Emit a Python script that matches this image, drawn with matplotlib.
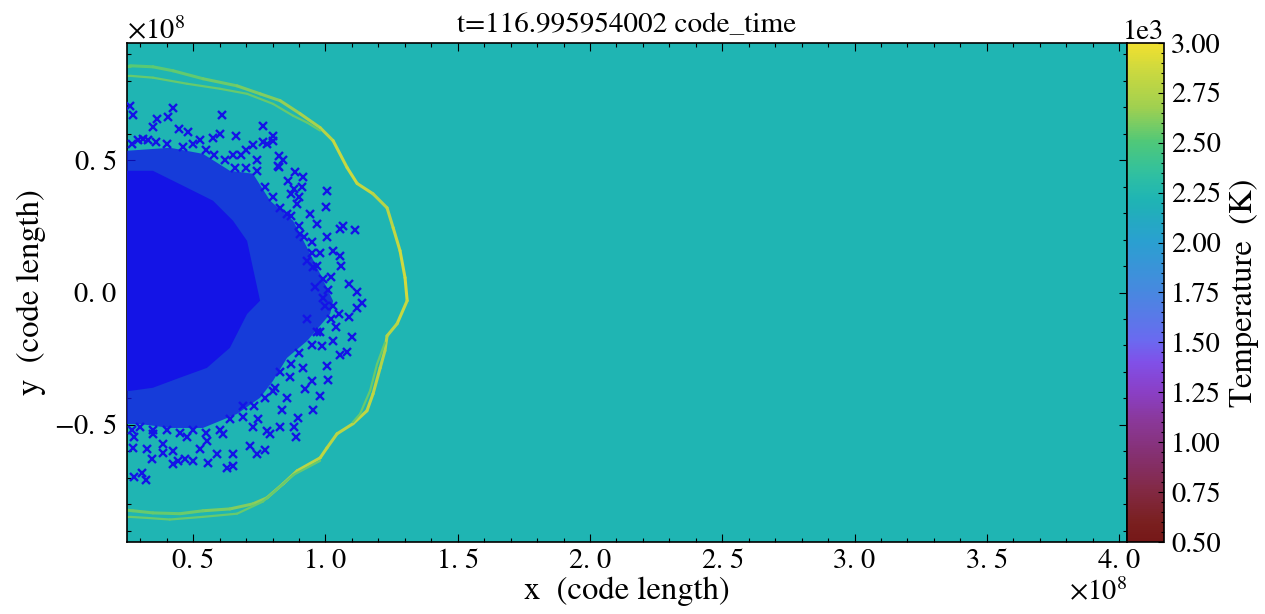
import matplotlib
matplotlib.use("Agg")
import matplotlib.pyplot as plt
from matplotlib.colors import LinearSegmentedColormap, Normalize
from matplotlib.collections import LineCollection
from matplotlib.ticker import MultipleLocator, ScalarFormatter
import numpy as np

plt.rcParams['font.family'] = ['STIXGeneral', 'DejaVu Serif']
plt.rcParams['mathtext.fontset'] = 'stix'
plt.rcParams['font.size'] = 20.5

# lengths in units of 1e8 code_length, temperatures in K
title = "t=116.995954002 code_time"
unit = 1e8
x_range = (0.25, 4.03)
y_range = (-0.943, 0.943)
T_range = (500.0, 3000.0)
T_ambient = 2220.0

# colour ramp
cmap_T = [500, 600, 770, 930, 1100, 1260, 1400, 1510, 1750, 2010, 2180, 2220,
          2350, 2510, 2680, 2850, 3000]
cmap_colors = ['#761818', '#7a2020', '#832a48', '#853070', '#8a3898', '#8a40c8',
               '#8050e8', '#6a6af0', '#4888e0', '#2aa0d0', '#20b0b8', '#1fb5b4',
               '#30c0a0', '#50c878', '#a0d050', '#c8d840', '#f0e030']

# shock front, main strand
shock_x = [0.24, 0.261, 0.348, 0.424, 0.537, 0.666, 0.753, 0.829, 0.904, 0.980, 1.029,
           1.082, 1.120, 1.180, 1.233, 1.256, 1.282, 1.301, 1.309, 1.271, 1.233,
           1.225, 1.207, 1.180, 1.157, 1.104, 1.044, 1.006, 0.980, 0.893, 0.840,
           0.779, 0.726, 0.639, 0.537, 0.450, 0.348, 0.273, 0.24]
shock_y = [0.857, 0.857, 0.853, 0.838, 0.808, 0.781, 0.751, 0.725, 0.676, 0.623, 0.574,
           0.472, 0.412, 0.373, 0.320, 0.245, 0.158, 0.056, -0.031, -0.118, -0.164,
           -0.220, -0.285, -0.383, -0.447, -0.496, -0.534, -0.587, -0.625, -0.674,
           -0.723, -0.776, -0.799, -0.818, -0.825, -0.836, -0.833, -0.825, -0.822]
shock_T = [2520, 2520, 2530, 2540, 2560, 2580, 2600, 2630, 2680, 2740, 2800,
           2870, 2850, 2780, 2760, 2800, 2850, 2880, 2870, 2800, 2760,
           2750, 2760, 2800, 2820, 2800, 2760, 2800, 2820, 2760, 2700,
           2660, 2620, 2600, 2580, 2560, 2560, 2560, 2560]

# second, fainter strands
inner_top_x = [0.24, 0.261, 0.348, 0.477, 0.602, 0.704, 0.802, 0.878, 0.931, 0.980]
inner_top_y = [0.819, 0.819, 0.812, 0.789, 0.770, 0.751, 0.713, 0.668, 0.642, 0.612]
inner_right_x = [1.225, 1.195, 1.169, 1.131, 1.104]
inner_right_y = [-0.190, -0.271, -0.371, -0.459, -0.490]
inner_bot_x = [0.980, 0.878, 0.764, 0.666, 0.537, 0.412, 0.326, 0.261, 0.24]
inner_bot_y = [-0.636, -0.690, -0.790, -0.836, -0.848, -0.858, -0.852, -0.848, -0.848]
inner_T = 2560.0

# particle cloud: solid core and the densely packed shell around it
core_x = [0.20, 0.254, 0.348, 0.477, 0.575, 0.651, 0.704, 0.726, 0.753, 0.704,
          0.639, 0.552, 0.450, 0.348, 0.261, 0.20]
core_y = [0.460, 0.460, 0.460, 0.396, 0.347, 0.271, 0.195, 0.093, -0.031, -0.081,
          -0.209, -0.285, -0.322, -0.360, -0.372, -0.372]
shell_x = [0.20, 0.254, 0.413, 0.537, 0.639, 0.726, 0.791, 0.878, 0.931, 0.980, 1.029,
           1.018, 0.931, 0.855, 0.802, 0.753, 0.666, 0.537, 0.413, 0.299, 0.254, 0.20]
shell_y = [0.536, 0.536, 0.547, 0.524, 0.460, 0.449, 0.347, 0.271, 0.169, 0.071, -0.032,
           -0.081, -0.183, -0.247, -0.334, -0.398, -0.459, -0.512, -0.512, -0.497,
           -0.497, -0.497]

# individual particles outside the packed shell
part_x = [0.261, 0.272, 0.425, 0.608, 0.365, 0.406, 0.349, 0.763, 0.662, 0.576,
          0.803, 0.803, 0.765, 0.728, 0.293, 0.331, 0.448, 0.482, 0.526, 0.650,
          0.826, 0.826, 0.885, 0.914, 1.005, 0.869, 0.910, 1.001, 1.066, 1.112,
          1.055, 1.005, 0.980, 1.030, 1.055, 1.090, 1.118, 1.137, 1.118, 0.929,
          0.954, 0.892, 0.942, 0.854, 0.967, 0.904,
          1.090, 1.051, 1.055, 1.081, 1.030, 0.986, 1.011, 0.980, 0.954, 0.923,
          0.898, 0.881, 0.888, 0.835, 0.828, 0.772, 0.740, 0.715, 0.652, 0.650,
          0.627, 0.589, 0.557, 0.526, 0.501, 0.469, 0.444, 0.425, 0.425, 0.385,
          0.343, 0.324, 0.276, 0.306, 0.322, 0.276, 0.274, 0.690, 0.778, 0.791,
          0.746, 0.728, 0.614, 0.551, 0.476, 0.387, 0.349, 0.917, 0.949, 0.867,
          0.854, 0.803, 1.005,
          1.020, 0.990, 1.040, 0.960, 1.060, 0.970, 1.000, 0.930, 0.950, 1.100,
          0.860, 0.880, 0.840, 0.900, 0.780, 0.820, 0.700, 0.740, 0.600, 0.680,
          0.27, 0.31, 0.36, 0.40, 0.46, 0.50, 0.55, 0.58, 0.62, 0.66,
          0.70, 0.74, 0.77, 0.80, 0.83, 0.87, 0.90, 0.92, 0.95, 0.97,
          0.99, 1.01, 1.03, 1.02, 0.98, 0.95, 0.90, 0.87, 0.83, 0.81,
          0.77, 0.73, 0.69, 0.64, 0.60, 0.55, 0.50, 0.45, 0.40, 0.35,
          0.30, 0.27]
part_y = [0.706, 0.672, 0.696, 0.672, 0.656, 0.662, 0.624, 0.628, 0.592, 0.584,
          0.592, 0.573, 0.569, 0.558, 0.576, 0.576, 0.618, 0.605, 0.578, 0.521,
          0.517, 0.475, 0.454, 0.437, 0.384, 0.372, 0.400, 0.324, 0.252, 0.236,
          0.240, 0.211, 0.151, 0.158, 0.139, 0.034, 0.003, -0.040, -0.057, 0.120,
          0.095, 0.334, 0.296, 0.296, 0.259, 0.221,
          -0.092, -0.082, -0.236, -0.223, -0.183, -0.202, -0.331, -0.391, -0.445, -0.365,
          -0.473, -0.510, -0.546, -0.445, -0.510, -0.596, -0.609, -0.580, -0.611, -0.655,
          -0.664, -0.611, -0.643, -0.590, -0.636, -0.631, -0.636, -0.647, -0.598, -0.607,
          -0.628, -0.592, -0.699, -0.684, -0.709, -0.548, -0.586, -0.428, -0.523, -0.535,
          -0.479, -0.510, -0.535, -0.561, -0.548, -0.573, -0.535, -0.284, -0.334, -0.321,
          -0.397, -0.372, -0.277,
          0.060, -0.020, -0.130, 0.020, 0.100, -0.150, -0.050, -0.100, 0.190, -0.170,
          0.420, 0.390, 0.500, 0.360, 0.560, 0.480, 0.540, 0.500, 0.600, 0.520,
          0.56, 0.58, 0.57, 0.56, 0.55, 0.56, 0.54, 0.52, 0.50, 0.47,
          0.47, 0.46, 0.40, 0.36, 0.32, 0.29, 0.25, 0.21, 0.15, 0.10,
          0.05, 0.01, -0.05, -0.10, -0.15, -0.20, -0.23, -0.27, -0.30, -0.36,
          -0.40, -0.43, -0.47, -0.48, -0.52, -0.53, -0.52, -0.53, -0.52, -0.52,
          -0.51, -0.52]


class SpacedFormatter(ScalarFormatter):
    # old mathtext put a thin space after the decimal point
    def __call__(self, x, pos=None):
        s = super().__call__(x, pos)
        return s.replace('.', r'.\,') if s.startswith('$') else s


cmap = LinearSegmentedColormap.from_list(
    "temperature",
    [((t - T_range[0]) / (T_range[1] - T_range[0]), c) for t, c in zip(cmap_T, cmap_colors)])
norm = Normalize(*T_range)
particle_blue = '#1414e6'

fig = plt.figure(figsize=(12.65, 6.14), dpi=100)
ax = fig.add_axes([127 / 1265, 72 / 614, 1000 / 1265, 499 / 614])
cax = fig.add_axes([1127 / 1265, 72 / 614, 37 / 1265, 499 / 614])

xlim = (x_range[0] * unit, x_range[1] * unit)
ylim = (y_range[0] * unit, y_range[1] * unit)
im = ax.imshow([[T_ambient]], cmap=cmap, norm=norm, extent=(*xlim, *ylim),
               origin='lower', aspect='auto', interpolation='nearest')


def strand(xs, ys, temps, lw):
    pts = np.column_stack([np.asarray(xs) * unit, np.asarray(ys) * unit])
    segs = np.stack([pts[:-1], pts[1:]], axis=1)
    t = np.asarray(temps, dtype=float)
    if t.ndim == 0:
        t = np.full(len(segs), float(t))
    else:
        t = 0.5 * (t[:-1] + t[1:])
    lc = LineCollection(segs, cmap=cmap, norm=norm, linewidths=lw, capstyle='round',
                        joinstyle='round', zorder=2)
    lc.set_array(t)
    ax.add_collection(lc)


strand(shock_x, shock_y, shock_T, 2.2)
strand(inner_top_x, inner_top_y, inner_T, 1.6)
strand(inner_right_x, inner_right_y, inner_T, 1.6)
strand(inner_bot_x, inner_bot_y, inner_T, 1.6)

ax.fill(np.asarray(shell_x) * unit, np.asarray(shell_y) * unit, color=particle_blue,
        alpha=0.75, lw=0, zorder=3)
ax.fill(np.asarray(core_x) * unit, np.asarray(core_y) * unit, color=particle_blue,
        lw=0, zorder=3)
ax.plot(np.asarray(part_x) * unit, np.asarray(part_y) * unit, 'x', color=particle_blue,
        ms=6, mew=1.7, zorder=4)

ax.set_xlim(*xlim)
ax.set_ylim(*ylim)
for axis in (ax.xaxis, ax.yaxis):
    axis.set_major_locator(MultipleLocator(0.5 * unit))
    axis.set_minor_locator(MultipleLocator(0.1 * unit))
    sf = SpacedFormatter(useMathText=True)
    sf.set_powerlimits((8, 8))
    axis.set_major_formatter(sf)
ax.tick_params(which='both', direction='in', top=True, right=True, width=0.8)
ax.tick_params(which='major', length=5.5)
ax.tick_params(which='minor', length=3)
ax.tick_params(axis='x', which='major', pad=5)
ax.tick_params(axis='y', which='major', pad=7)
for sp in ax.spines.values():
    sp.set_linewidth(1.2)

ax.set_xlabel("x  (code length)", fontsize=23.5, labelpad=2)
ax.set_ylabel("y  (code length)", fontsize=23.5, labelpad=6)
ax.set_title(title, fontsize=21, pad=8)

cbar = fig.colorbar(im, cax=cax)
fmt = ScalarFormatter(useMathText=False)
fmt.set_powerlimits((0, 0))
cbar.locator = MultipleLocator(250)
cbar.minorlocator = MultipleLocator(50)
cbar.formatter = fmt
cbar.update_ticks()
cbar.outline.set_linewidth(1.2)
cax.tick_params(which='both', direction='in', right=True, left=False, width=0.8)
cax.tick_params(which='major', length=4.5, pad=5)
cax.tick_params(which='minor', length=2.5)
cax.yaxis.get_offset_text().set_horizontalalignment('right')
cbar.set_label("Temperature  (K)", fontsize=23.5, labelpad=6)

fig.savefig("out.png", dpi=100)
